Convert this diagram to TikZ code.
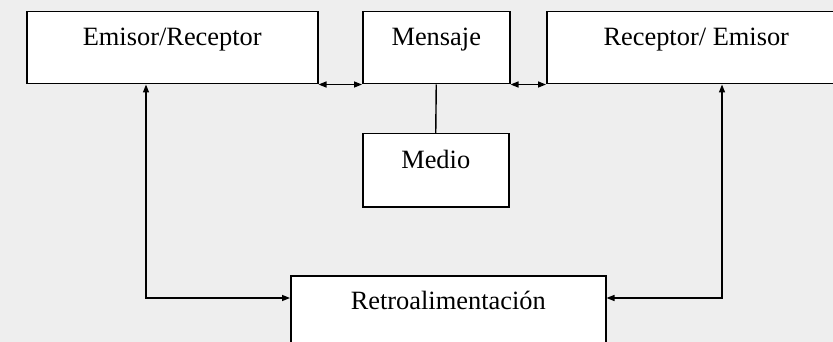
\documentclass[tikz,border=0pt]{standalone}
\usepackage{fontspec}
\setmainfont{Liberation Serif}
\usetikzlibrary{arrows.meta}
\definecolor{paper}{RGB}{238,238,238}

\begin{document}
\begin{tikzpicture}[x=1pt,y=-1pt,>={Triangle[length=8pt,width=6pt]},
    caja/.style={draw,fill=white,line width=1.5pt,anchor=north west,
        minimum height=72pt,inner sep=0pt,text height=22pt,text depth=26pt,
        font=\fontsize{26.4}{30}\selectfont},
    flecha/.style={<->,line width=1.4pt}]

    \useasboundingbox (0,0) rectangle (833,342);
    \clip (0,0) rectangle (833,342);
    \fill[paper] (0,0) rectangle (833,342);

    \node[caja,minimum width=291pt] (emisor) at (26,11) {Emisor/Receptor};
    \node[caja,minimum width=147pt] (mensaje) at (362,11) {Mensaje};
    \node[caja,minimum width=299pt] (receptor) at (546,11) {Receptor/ Emisor};
    \node[caja,minimum width=146pt,minimum height=73pt] (medio) at (362,133) {Medio};
    \node[caja,minimum width=315pt] (retro) at (290,275) {Retroalimentación};

    \draw[flecha] (emisor.south east) -- (mensaje.south west);
    \draw[flecha] (mensaje.south east) -- (receptor.south west);
    \draw[line width=1.4pt] (mensaje.south) -- (medio.north);

    % lazo de retroalimentacion
    \coordinate (izq) at (146,298);
    \coordinate (der) at (722,298);
    \draw[flecha] (izq |- emisor.south) -- (izq) -- (izq -| retro.west);
    \draw[flecha] (der |- receptor.south) -- (der) -- (der -| retro.east);
\end{tikzpicture}
\end{document}
